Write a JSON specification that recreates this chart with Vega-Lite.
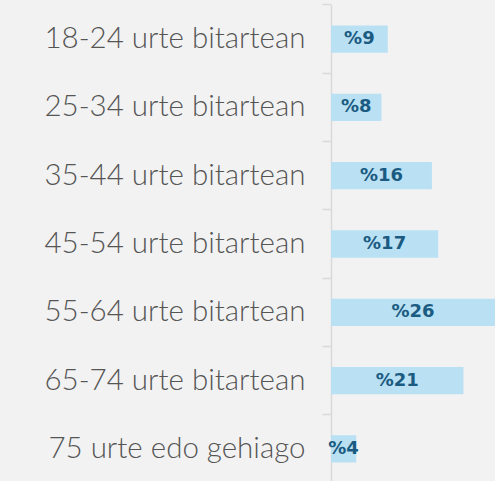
{
  "$schema": "https://vega.github.io/schema/vega-lite/v6.json",
  "width": 164,
  "height": 478,
  "autosize": {"type": "none"},
  "padding": {"left": 331, "top": 5, "right": 0, "bottom": 0},
  "background": "#f2f2f2",
  "config": {"view": {"stroke": null}},
  "data": {
    "values": [
      {"adina": "18-24 urte bitartean", "ehunekoa": 9, "etiketa": "%9"},
      {"adina": "25-34 urte bitartean", "ehunekoa": 8, "etiketa": "%8"},
      {"adina": "35-44 urte bitartean", "ehunekoa": 16, "etiketa": "%16"},
      {"adina": "45-54 urte bitartean", "ehunekoa": 17, "etiketa": "%17"},
      {"adina": "55-64 urte bitartean", "ehunekoa": 26, "etiketa": "%26"},
      {"adina": "65-74 urte bitartean", "ehunekoa": 21, "etiketa": "%21"},
      {"adina": "75 urte edo gehiago", "ehunekoa": 4, "etiketa": "%4"}
    ]
  },
  "transform": [{"calculate": "datum.ehunekoa / 2", "as": "erdia"}],
  "encoding": {
    "y": {
      "field": "adina",
      "type": "nominal",
      "sort": null,
      "title": null,
      "scale": {"paddingInner": 0, "paddingOuter": 0},
      "axis": {
        "bandPosition": 0,
        "domainColor": "#d9d9d9",
        "domainWidth": 1.5,
        "tickColor": "#d9d9d9",
        "tickWidth": 1.5,
        "tickSize": 9,
        "labelPadding": 17,
        "labelFont": "Lato",
        "labelFontWeight": 300,
        "labelFontSize": 29.5,
        "labelColor": "#555555",
        "labelLimit": 400
      }
    }
  },
  "layer": [
    {
      "mark": {"type": "bar", "color": "#b9e1f3", "height": {"band": 0.4}},
      "encoding": {
        "x": {
          "field": "ehunekoa",
          "type": "quantitative",
          "scale": {"domain": [0, 26], "nice": false},
          "axis": null
        }
      }
    },
    {
      "mark": {"type": "text", "font": "DejaVu Sans", "fontWeight": "bold", "fontSize": 18, "color": "#1b5b82"},
      "encoding": {
        "x": {"field": "erdia", "type": "quantitative"},
        "text": {"field": "etiketa"}
      }
    }
  ]
}
